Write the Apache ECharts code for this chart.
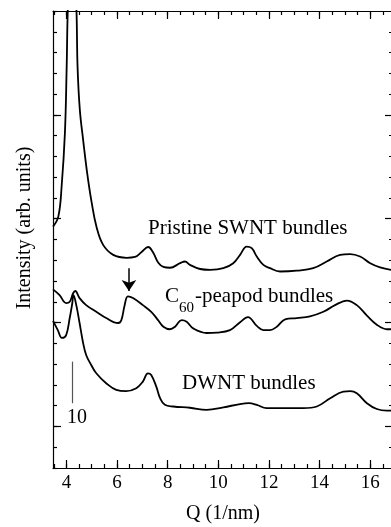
<!DOCTYPE html>
<html>
<head>
<meta charset="utf-8">
<script src="https://cdn.jsdelivr.net/npm/echarts@6/dist/echarts.min.js"></script>
<style>
  html, body { margin: 0; padding: 0; background: #fff; }
  #chart { width: 391px; height: 527px; }
</style>
</head>
<body>
<div id="chart"></div>
<script>
// scattering profiles, Q in 1/nm, intensity in arb. units (scale bar = 10)
const pristineQ = [3.47, 3.68, 3.81, 3.94, 4.01, 4.05, 4.22, 4.40, 4.44, 4.53, 4.66, 4.82, 5.00, 5.19, 5.45, 5.85,
  6.38, 6.71, 6.97, 7.23, 7.43, 7.63, 7.83, 8.09, 8.49, 8.68, 8.88, 9.28, 9.68, 10.20, 10.59, 10.86, 11.12,
  11.32, 11.52, 11.78, 12.04, 12.44, 13.10, 13.75, 14.28, 14.81, 15.21, 15.60, 16.00, 16.39, 16.90]
const pristineI = [58.1, 60.5, 67.7, 80.6, 96.6, 109.5, 140, 109.5, 96.6, 86.2, 79.0, 71.0, 63.8, 58.0, 53.7, 51.3,
  50.6, 50.8, 52.0, 53.2, 51.8, 49.4, 48.4, 48.2, 49.3, 49.7, 48.9, 47.9, 47.7, 48.1, 49.3, 51.3, 53.3,
  52.9, 50.9, 48.9, 48.1, 47.3, 47.5, 48.1, 49.7, 51.3, 51.5, 50.9, 49.3, 48.3, 47.6]

const peapodQ = [3.47, 3.73, 3.99, 4.13, 4.26, 4.35, 4.52, 4.78, 5.18, 5.57, 6.04, 6.17, 6.30, 6.43, 6.63, 7.02,
  7.35, 7.62, 7.83, 8.09, 8.29, 8.55, 8.75, 9.01, 9.54, 9.94, 10.46, 10.86, 11.17, 11.52, 11.78, 12.04,
  12.31, 12.64, 13.10, 13.62, 14.15, 14.61, 15.08, 15.47, 15.87, 16.26, 16.66, 16.90]
const peapodI = [43.0, 41.6, 39.7, 40.0, 42.0, 42.6, 40.9, 39.2, 37.6, 36.1, 34.9, 35.6, 39.2, 41.3, 40.9, 39.2,
  37.6, 35.6, 34.0, 33.4, 34.0, 35.6, 35.2, 33.6, 32.5, 32.6, 33.2, 35.1, 36.3, 34.2, 33.2, 33.2,
  34.0, 35.8, 36.1, 36.5, 37.6, 39.2, 40.3, 39.2, 36.7, 34.5, 33.4, 33.4]

const dwntQ = [3.47, 3.66, 3.82, 3.99, 4.13, 4.23, 4.28, 4.39, 4.52, 4.65, 4.78, 4.98, 5.18, 5.57, 5.97, 6.36,
  6.76, 7.02, 7.22, 7.35, 7.55, 7.70, 7.89, 8.22, 8.88, 9.54, 10.20, 10.86, 11.21, 11.52, 11.91, 12.57,
  13.36, 13.89, 14.42, 14.94, 15.21, 15.47, 15.87, 16.26, 16.66, 16.90]
const dwntI = [35.4, 33.2, 31.3, 32.0, 36.1, 39.6, 41.6, 39.2, 34.9, 30.4, 27.2, 24.8, 22.8, 20.4, 18.8, 18.5,
  19.2, 20.8, 22.8, 22.4, 19.6, 16.8, 15.2, 14.8, 14.5, 14.0, 14.6, 15.4, 15.6, 15.2, 14.4, 14.4,
  14.4, 14.8, 16.8, 18.4, 18.5, 18.0, 15.6, 14.2, 13.8, 13.8]

const qTickLabels = [4, 6, 8, 10, 12, 14, 16]
const intensityMajorTicks = [10, 35, 60, 85]
const arrowQ = 6.47
const arrowI = [48.1, 42.6]
const scaleBarQ = 4.22
const scaleBarI = [15.6, 25.6]

function range(a, b, step) {
  const out = []
  for (let v = a; v <= b + 1e-9; v += step) out.push(+v.toFixed(2))
  return out
}
const qMinorTicks = range(3.5, 16.5, 0.5)

const serif = "'Liberation Serif', 'Times New Roman', serif"
const black = '#000'

function pairs(q, i) {
  return q.map((x, k) => [x, i[k]])
}

function xAxisDef(position, ticks, len, showLine, showLabel) {
  return {
    type: 'value', min: 3.47, max: 16.9, position,
    axisLine: { show: showLine, onZero: false, lineStyle: { color: black, width: 1.2 } },
    axisTick: { show: true, inside: true, length: len, customValues: ticks, lineStyle: { color: black, width: 1.2 } },
    axisLabel: showLabel
      ? { show: true, customValues: qTickLabels, margin: 6, color: black, fontFamily: serif, fontSize: 19 }
      : { show: false },
    splitLine: { show: false }
  }
}

function yAxisDef(position, major, showLine) {
  const tick = major
    ? { show: true, inside: true, length: 8, customValues: intensityMajorTicks, lineStyle: { color: black, width: 1.2 } }
    : { show: true, inside: true, length: 4, lineStyle: { color: black, width: 1.2 } }
  const axis = {
    type: 'value', min: 0, max: 110, position,
    axisLine: { show: showLine, onZero: false, lineStyle: { color: black, width: 1.2 } },
    axisTick: tick,
    axisLabel: { show: false },
    splitLine: { show: false }
  }
  if (!major) axis.interval = 5
  return axis
}

function curve(name, q, i, extra) {
  return Object.assign({
    name,
    type: 'line',
    data: pairs(q, i),
    showSymbol: false,
    smooth: 0.4,
    clip: true,
    lineStyle: { color: black, width: 1.8 },
    itemStyle: { color: black },
    emphasis: { disabled: true },
    animation: false
  }, extra || {})
}

const chart = echarts.init(document.getElementById('chart'))
chart.setOption({
  backgroundColor: '#fff',
  animation: false,
  grid: { left: 53, right: -2, top: 11, bottom: 59, containLabel: false, outerBoundsMode: 'none' },
  xAxis: [
    Object.assign(xAxisDef('bottom', qTickLabels, 8, true, true), {
      name: 'Q (1/nm)', nameLocation: 'middle', nameGap: 36,
      nameTextStyle: { color: black, fontFamily: serif, fontSize: 20 }
    }),
    xAxisDef('bottom', qMinorTicks, 4, false, false),
    xAxisDef('top', qTickLabels, 8, true, false),
    xAxisDef('top', qMinorTicks, 4, false, false)
  ],
  yAxis: [
    yAxisDef('left', false, true),
    yAxisDef('left', true, false),
    yAxisDef('right', false, true),
    yAxisDef('right', true, false)
  ],
  series: [
    curve('Pristine SWNT bundles', pristineQ, pristineI),
    curve('C60-peapod bundles', peapodQ, peapodI, {
      markLine: {
        silent: true, animation: false,
        symbol: ['none', 'arrow'], symbolSize: 11,
        label: { show: false },
        lineStyle: { color: black, width: 1.5, type: 'solid' },
        itemStyle: { color: black },
        data: [[{ coord: [arrowQ, arrowI[0]] }, { coord: [arrowQ, arrowI[1]] }]]
      }
    }),
    curve('DWNT bundles', dwntQ, dwntI, {
      markLine: {
        silent: true, animation: false,
        symbol: ['none', 'none'],
        label: { show: false },
        lineStyle: { color: '#555', width: 1.2, type: 'solid' },
        data: [[{ coord: [scaleBarQ, scaleBarI[0]] }, { coord: [scaleBarQ, scaleBarI[1]] }]]
      }
    })
  ],
  graphic: [
    {
      type: 'text', x: 25, y: 228, rotation: Math.PI / 2,
      style: { text: 'Intensity (arb. units)', x: 0, y: 0, align: 'center', verticalAlign: 'middle', fill: black, font: '20px ' + serif }
    },
    { type: 'text', x: 148, y: 218, style: { text: 'Pristine SWNT bundles', fill: black, font: '21px ' + serif } },
    { type: 'text', x: 165, y: 286, style: { text: 'C', fill: black, font: '21px ' + serif } },
    { type: 'text', x: 179, y: 301, style: { text: '60', fill: black, font: '15px ' + serif } },
    { type: 'text', x: 195, y: 286, style: { text: '-peapod bundles', fill: black, font: '21px ' + serif } },
    { type: 'text', x: 182, y: 373, style: { text: 'DWNT bundles', fill: black, font: '21px ' + serif } },
    { type: 'text', x: 67, y: 408, style: { text: '10', fill: black, font: '20px ' + serif } }
  ]
})
</script>
</body>
</html>
